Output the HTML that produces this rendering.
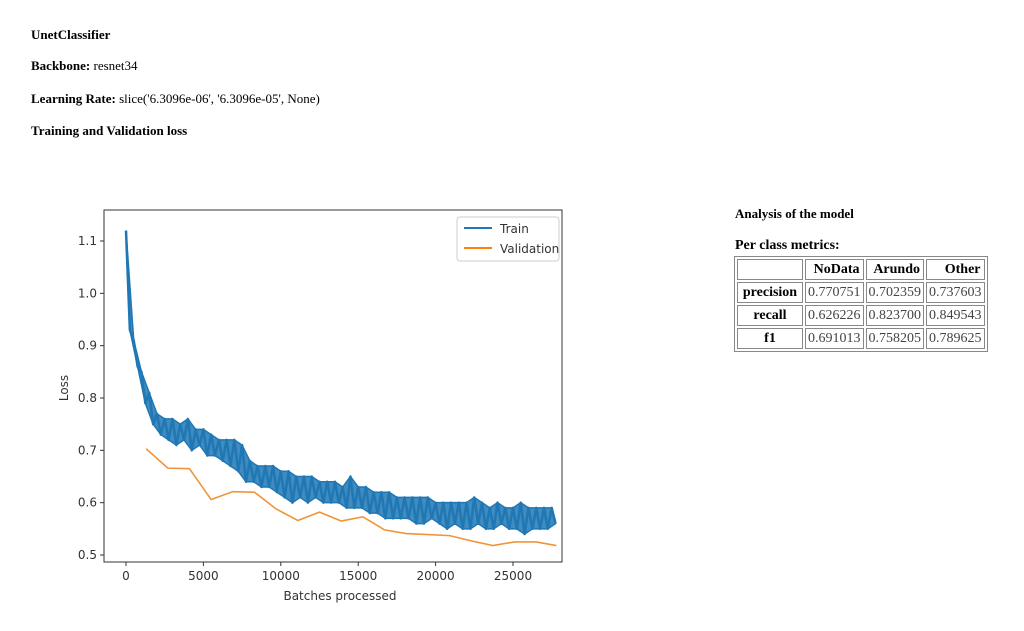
<!DOCTYPE html>
<html><head><meta charset="utf-8"><style>
body{margin:0;width:1024px;height:631px;background:#fff;font-family:"Liberation Serif",serif;color:#000;position:relative;overflow:hidden}
.h{position:absolute;left:31px;font-size:13px}
.h b{font-weight:bold}
table{position:absolute;left:734px;top:256px;border:1px solid #888;border-collapse:separate;border-spacing:2px;font-size:14px}
td{border:1px solid #888;padding:1px 2px;height:17px;color:#444}
td.r{font-weight:bold;text-align:center;color:#000}
th{border:1px solid #888;padding:1px 3px;text-align:right;height:17px}
</style></head><body>
<div class="h" style="top:27px"><b>UnetClassifier</b></div>
<div class="h" style="top:58px"><b>Backbone:</b> resnet34</div>
<div class="h" style="top:91px"><b>Learning Rate:</b> slice('6.3096e-06', '6.3096e-05', None)</div>
<div class="h" style="top:123px"><b>Training and Validation loss</b></div>
<div class="h" style="left:735px;top:206px"><b>Analysis of the model</b></div>
<div class="h" style="left:735px;top:238px;font-size:14px"><b>Per class metrics:</b></div>
<table>
<tr><th style="width:58px"></th><th>NoData</th><th>Arundo</th><th>Other</th></tr>
<tr><td class="r">precision</td><td>0.770751</td><td>0.702359</td><td>0.737603</td></tr>
<tr><td class="r">recall</td><td>0.626226</td><td>0.823700</td><td>0.849543</td></tr>
<tr><td class="r">f1</td><td>0.691013</td><td>0.758205</td><td>0.789625</td></tr>
</table>
<svg id="chart" width="1024" height="631" style="position:absolute;left:0;top:0"></svg>
<script>
const xTicks=[0,5000,10000,15000,20000,25000];
const yTicks=[0.5,0.6,0.7,0.8,0.9,1.0,1.1];
const trainStep=250;
const trainLoss=[1.12,0.93,0.91,0.86,0.85,0.79,0.81,0.75,0.77,0.73,0.76,0.72,
0.76,0.71,0.75,0.72,0.76,0.70,0.74,0.71,0.74,0.69,0.73,0.69,0.72,0.68,0.72,0.67,
0.72,0.66,0.71,0.64,0.68,0.64,0.67,0.63,0.67,0.63,0.67,0.62,0.66,0.61,0.66,0.60,
0.65,0.61,0.65,0.60,0.65,0.61,0.64,0.60,0.64,0.60,0.64,0.60,0.63,0.59,0.65,0.59,
0.63,0.59,0.63,0.58,0.62,0.58,0.62,0.57,0.62,0.57,0.61,0.57,0.61,0.57,0.61,0.56,
0.61,0.56,0.61,0.57,0.60,0.56,0.60,0.55,0.60,0.56,0.60,0.55,0.60,0.55,0.61,0.56,
0.60,0.55,0.59,0.55,0.60,0.56,0.59,0.55,0.59,0.55,0.60,0.54,0.59,0.55,0.59,0.55,
0.59,0.55,0.59,0.56];
const valBatches=[1300,2700,4100,5500,6900,8300,9700,11100,12500,13900,15300,16700,18100,19500,20900,22300,23700,25100,26500,27800];
const valLoss=[0.703,0.666,0.665,0.606,0.621,0.620,0.588,0.566,0.582,0.565,0.573,0.548,0.541,0.539,0.537,0.527,0.518,0.525,0.525,0.518];
const NS="http://www.w3.org/2000/svg";
const svg=document.getElementById('chart');
const L=104,R=562,T=210,B=562;
const X=v=>126+v*(513-126)/25000;
const Y=v=>555-(v-0.5)*(555-241)/0.6;
function mk(t,a,p){const e=document.createElementNS(NS,t);for(const k in a)e.setAttribute(k,a[k]);(p||svg).appendChild(e);return e;}
const font='"DejaVu Sans",sans-serif';
xTicks.forEach(v=>{
 const l=mk('line',{x1:X(v),x2:X(v),y1:B,y2:B+4,stroke:'#333'});
 
 
 const t=mk('text',{x:X(v),y:B+18,'text-anchor':'middle','font-size':12,'font-family':font,fill:'#333'});
 t.textContent=v;
 
 
});
yTicks.forEach(v=>{
 const l=mk('line',{x1:L-4,x2:L,y1:Y(v),y2:Y(v),stroke:'#333'});
 
 
 const t=mk('text',{x:L-7,y:Y(v)+4,'text-anchor':'end','font-size':12,'font-family':font,fill:'#333'});
 t.textContent=v.toFixed(1);
 
 
});
const up=[],lo=[];
trainLoss.forEach((v,i)=>{(i%2===0?up:lo).push([X(i*trainStep),Y(v)]);});
const bandPts=up.map(p=>p.join(',')).concat(lo.slice().reverse().map(p=>p.join(','))).join(' ');
const band=mk('polygon',{points:bandPts,fill:'#1f77b4','fill-opacity':0.85,stroke:'#1f77b4','stroke-width':1.5});


const tp=mk('polyline',{points:trainLoss.map((v,i)=>X(i*trainStep)+','+Y(v)).join(' '),fill:'none',stroke:'#1f77b4','stroke-width':2.5,'stroke-linejoin':'round'});


const vp=mk('polyline',{points:valLoss.map((v,i)=>X(valBatches[i])+','+Y(v)).join(' '),fill:'none',stroke:'#f0943a','stroke-width':1.6});


const fr=mk('rect',{x:L,y:T,width:R-L,height:B-T,fill:'none',stroke:'#333'});


const xl=mk('text',{x:(L+R)/2+7,y:600,'text-anchor':'middle','font-size':12,'font-family':font,fill:'#333'});
xl.textContent='Batches processed';


const yl=mk('text',{x:0,y:0,'text-anchor':'middle','font-size':12,'font-family':font,fill:'#333',transform:'translate(68,388) rotate(-90)'});
yl.textContent='Loss';


const lg=mk('g',{});


mk('rect',{x:457,y:217,width:102,height:44,rx:3,fill:'#fff',stroke:'#ccc'},lg);
[['Train','#1f77b4',233],['Validation','#ff7f0e',253]].forEach(([n,c,y])=>{
 const g=mk('g',{},lg);
 
 
 mk('line',{x1:464,x2:492,y1:y-5,y2:y-5,stroke:c,'stroke-width':2},g);
 const t=mk('text',{x:500,y:y,'font-size':12,'font-family':font,fill:'#333'},g);
 t.textContent=n;
});
</script>
</body></html>
